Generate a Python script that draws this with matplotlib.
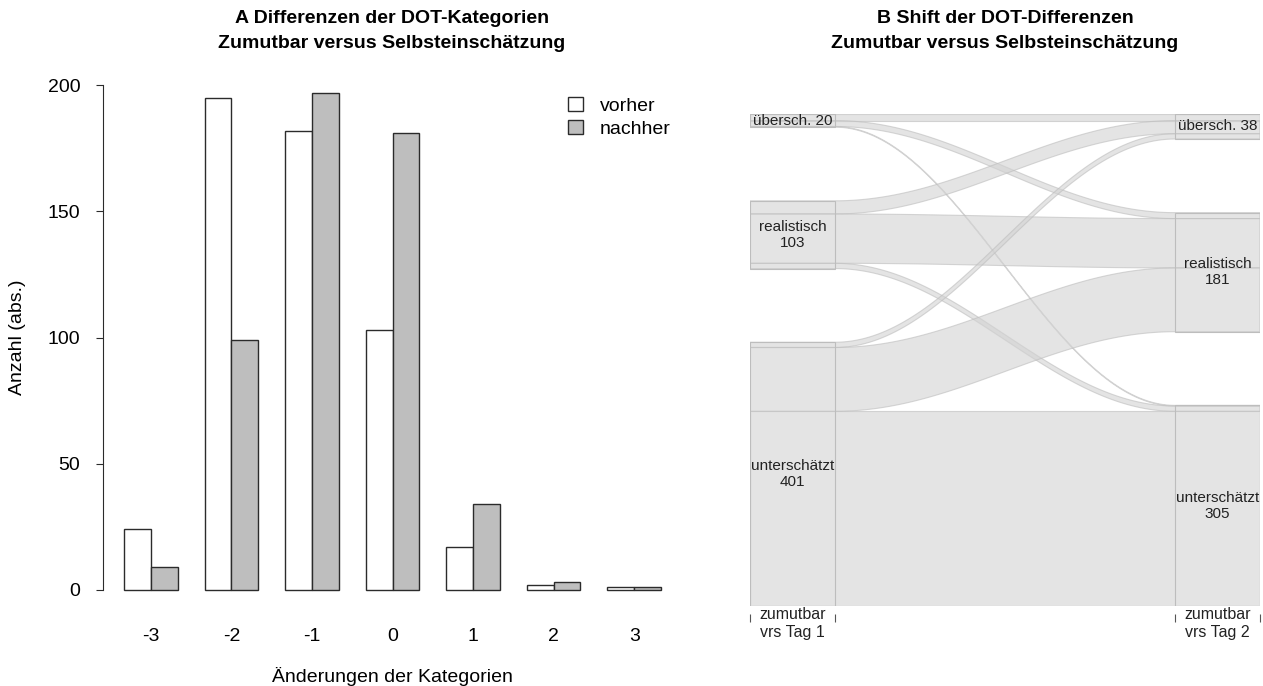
import numpy as np
import matplotlib
matplotlib.use("Agg")
import matplotlib.pyplot as plt
from matplotlib.patches import Patch, Polygon, Rectangle

plt.rcParams['font.family'] = ['Liberation Sans', 'DejaVu Sans']

# --- panel A: differences of DOT categories
change_labels = ["-3", "-2", "-1", "0", "1", "2", "3"]
vorher = [24, 195, 182, 103, 17, 2, 1]
nachher = [9, 99, 197, 181, 34, 3, 1]

# --- panel B: shift between Tag 1 and Tag 2 (rows = Tag 1, cols = Tag 2)
kategorien = ["übersch.", "realistisch", "unterschätzt"]
flow_uebersch = [10, 9, 1]
flow_realistisch = [20, 75, 8]
flow_unterschaetzt = [8, 97, 296]
achsen_labels = ["zumutbar\nvrs Tag 1", "zumutbar\nvrs Tag 2"]

W, H = 1263, 686
BAND = "#d2d2d2"
EDGE = "#bdbdbd"


def px_axes(fig, x0, x1, y_top, y_bot):
    return fig.add_axes([x0 / W, 1 - y_bot / H, (x1 - x0) / W, (y_bot - y_top) / H])


def plot_bars(ax):
    n = len(change_labels)
    left = np.arange(n) * 3 + 1
    ax.bar(left, vorher, width=1, align="edge", color="white", edgecolor="#2b2b2b", lw=1)
    ax.bar(left + 1, nachher, width=1, align="edge", color="#bebebe", edgecolor="#2b2b2b", lw=1)
    ax.set_xlim(0.2, 21.8)
    ax.set_ylim(-8, 208)
    for s in ["top", "right", "bottom"]:
        ax.spines[s].set_visible(False)
    ax.spines["left"].set_bounds(0, 200)
    ax.spines["left"].set_color("#2b2b2b")
    ax.set_yticks([0, 50, 100, 150, 200])
    ax.set_xticks(left + 1)
    ax.set_xticklabels(change_labels)
    ax.tick_params(axis="x", length=0, pad=13, labelsize=14)
    ax.tick_params(axis="y", length=5, pad=11, labelsize=14, color="#2b2b2b")
    ax.set_ylabel("Anzahl (abs.)", fontsize=14)
    ax.yaxis.set_label_coords(-0.132, 0.5)
    ax.set_xlabel("Änderungen der Kategorien", fontsize=14, va="top")
    ax.xaxis.set_label_coords(0.5, -0.104)
    handles = [Patch(facecolor="white", edgecolor="#2b2b2b"),
               Patch(facecolor="#bebebe", edgecolor="#2b2b2b")]
    ax.legend(handles, ["vorher", "nachher"], loc="upper left",
              bbox_to_anchor=(568 / W, 1 - 97 / H), bbox_transform=ax.figure.transFigure,
              frameon=False, fontsize=14, handlelength=0.75, handleheight=0.75,
              handletextpad=0.9, labelspacing=0.25, borderpad=0, borderaxespad=0)


def plot_alluvial(ax, flows, labels, cw=0.1, gap=112):
    flows = np.array(flows)
    n = len(labels)
    tot1 = flows.sum(axis=1)
    tot2 = flows.sum(axis=0)
    top = flows.sum() + gap * (n - 1)
    top1 = top - np.concatenate([[0], np.cumsum(tot1)[:-1]]) - np.arange(n) * gap
    top2 = top - np.concatenate([[0], np.cumsum(tot2)[:-1]]) - np.arange(n) * gap
    pos1 = top1.astype(float).copy()
    pos2 = top2.astype(float).copy()
    t = np.linspace(0, 1, 80)
    s = (1 - np.cos(np.pi * t)) / 2
    xc = 1 + cw + (1 - 2 * cw) * t
    for i in range(n):
        for j in range(n):
            f = flows[i, j]
            a0, a1 = pos1[i], pos1[i] - f
            b0, b1 = pos2[j], pos2[j] - f
            pos1[i], pos2[j] = a1, b1
            upper = a0 + (b0 - a0) * s
            lower = a1 + (b1 - a1) * s
            xs = np.concatenate([[1 - cw], xc, [2 + cw, 2 + cw], xc[::-1], [1 - cw]])
            ys = np.concatenate([[a0], upper, [b0, b1], lower[::-1], [a1]])
            ax.add_patch(Polygon(np.column_stack([xs, ys]), closed=True,
                                 facecolor=BAND, edgecolor=EDGE, lw=0.8, alpha=0.6))
    for x, tops, tots in [(1, top1, tot1), (2, top2, tot2)]:
        for k in range(n):
            ax.add_patch(Rectangle((x - cw, tops[k] - tots[k]), 2 * cw, tots[k],
                                   facecolor="none", edgecolor=EDGE, lw=0.8))
            sep = " " if tots[k] < 50 else "\n"
            ax.text(x, tops[k] - tots[k] / 2, f"{labels[k]}{sep}{tots[k]}",
                    ha="center", va="center", fontsize=11, color="#222222")
    ax.set_xlim(1 - cw, 2 + cw)
    ax.set_ylim(0, top)
    for sp in ax.spines.values():
        sp.set_visible(False)
    ax.spines["bottom"].set_position(("outward", 6))
    ax.set_yticks([])
    ax.set_xticks([1 - cw, 1 + cw, 2 - cw, 2 + cw])
    ax.set_xticklabels([])
    ax.tick_params(axis="x", length=6, width=0.8, color="#555555")
    for x, lab in zip([1, 2], achsen_labels):
        ax.annotate(lab, xy=(x, 0), xycoords=("data", "axes fraction"),
                    xytext=(0, -1), textcoords="offset points",
                    ha="center", va="top", fontsize=11.5, color="#222222",
                    linespacing=1.2)


fig = plt.figure(figsize=(W / 100, H / 100), dpi=100)
ax1 = px_axes(fig, 102.5, 682.5, 65, 610)
plot_bars(ax1)
ax2 = px_axes(fig, 750, 1260, 114, 606)
plot_alluvial(ax2, [flow_uebersch, flow_realistisch, flow_unterschaetzt], kategorien)

fig.text(392 / W, 1 - 31 / H,
         "A Differenzen der DOT-Kategorien\nZumutbar versus Selbsteinschätzung",
         ha="center", va="center", fontsize=14, fontweight="bold", linespacing=1.65)
fig.text(1005 / W, 1 - 31 / H,
         "B Shift der DOT-Differenzen\nZumutbar versus Selbsteinschätzung",
         ha="center", va="center", fontsize=14, fontweight="bold", linespacing=1.65)

fig.savefig("out.png", dpi=100)
